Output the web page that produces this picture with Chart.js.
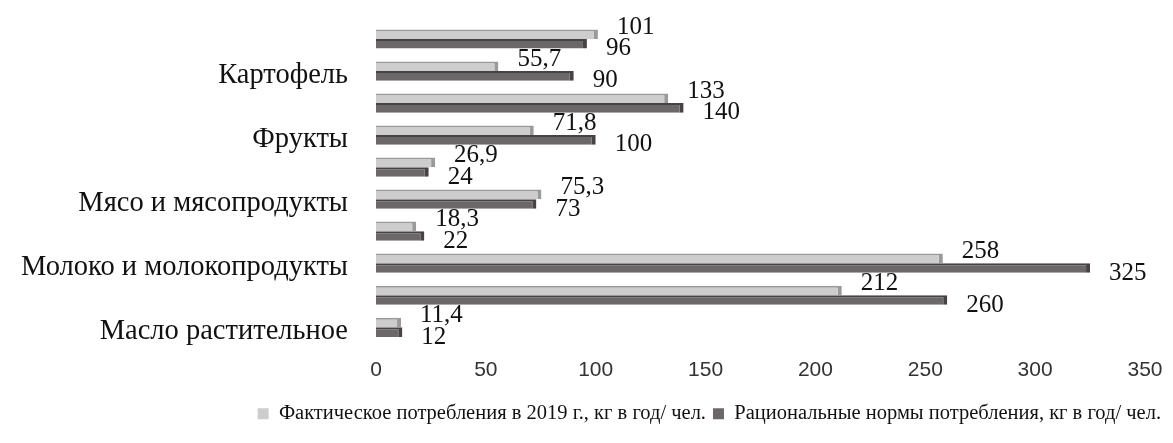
<!DOCTYPE html>
<html>
<head>
<meta charset="utf-8">
<script src="https://cdn.jsdelivr.net/npm/chart.js@4"></script>
<style>
  html, body { margin: 0; padding: 0; background: #fff; }
  #wrap { width: 1173px; height: 443px; }
</style>
</head>
<body>
<div id="wrap"><canvas id="chart"></canvas></div>
<script>
// Categories top to bottom; only every other label is printed in the original
const categories = [
    'Хлебные продукты', 'Картофель', 'Овощи и бахчевые', 'Фрукты', 'Сахар',
    'Мясо и мясопродукты', 'Рыба и рыбопродукты', 'Молоко и молокопродукты', 'Яйца, шт.', 'Масло растительное'
];
const factual2019 = [101, 55.7, 133, 71.8, 26.9, 75.3, 18.3, 258, 212, 11.4];
const rationalNorms = [96, 90, 140, 100, 24, 73, 22, 325, 260, 12];
const xTicks = [0, 50, 100, 150, 200, 250, 300, 350];

const seriesNames = [
    'Фактическое потребления в 2019 г., кг в год/ чел.',
    'Рациональные нормы потребления, кг в год/ чел.'
];

const serif = '"Liberation Serif", "Times New Roman", serif';

// value labels next to the bar ends, comma as decimal separator
const valueLabels = {
    id: 'valueLabels',
    afterDatasetsDraw(chart) {
        const ctx = chart.ctx;
        ctx.save();
        ctx.font = '25px ' + serif;
        ctx.fillStyle = '#111';
        ctx.textAlign = 'left';
        ctx.textBaseline = 'middle';
        chart.data.datasets.forEach((ds, di) => {
            const meta = chart.getDatasetMeta(di);
            meta.data.forEach((bar, i) => {
                const txt = String(ds.data[i]).replace('.', ',');
                const dy = di === 0 ? -7 : 5;
                ctx.fillText(txt, bar.x + 19, bar.y + dy);
            });
        });
        ctx.restore();
    }
};

new Chart(document.getElementById('chart'), {
    type: 'bar',
    data: {
        labels: categories,
        datasets: [
            {
                label: seriesNames[0],
                data: factual2019,
                backgroundColor: '#cdcdcd',
                borderColor: '#9a9a9a',
                borderWidth: { top: 2, right: 4, bottom: 0, left: 0 },
                borderSkipped: false
            },
            {
                label: seriesNames[1],
                data: rationalNorms,
                backgroundColor: '#6c6768',
                borderColor: '#474344',
                borderWidth: { top: 2, right: 4, bottom: 0, left: 0 },
                borderSkipped: false
            }
        ]
    },
    options: {
        indexAxis: 'y',
        responsive: true,
        maintainAspectRatio: false,
        animation: false,
        layout: { padding: { top: 23, right: 5, bottom: 9, left: 0 } },
        datasets: { bar: { categoryPercentage: 0.6, barPercentage: 1 } },
        scales: {
            x: {
                min: 0,
                max: 350,
                afterBuildTicks: s => { s.ticks = xTicks.map(v => ({ value: v })); },
                afterFit: s => { s.paddingRight = 28; },
                grid: { display: false, drawTicks: false },
                border: { display: false },
                ticks: {
                    padding: 14,
                    color: '#333',
                    font: { family: '"Liberation Sans", Arial, sans-serif', size: 21 }
                }
            },
            y: {
                grid: { display: false, drawTicks: false },
                border: { display: false },
                afterFit: s => { s.width = 376; s.paddingTop = 0; s.paddingBottom = 0; },
                ticks: {
                    autoSkip: false,
                    padding: 28,
                    labelOffset: 4,
                    color: '#111',
                    font: { family: serif, size: 28.5 },
                    callback: function (value, index) {
                        return index % 2 === 1 ? categories[index] : '';
                    }
                }
            }
        },
        plugins: {
            legend: {
                position: 'bottom',
                align: 'end',
                labels: {
                    boxWidth: 11,
                    boxHeight: 11,
                    padding: 7,
                    color: '#111',
                    font: { family: serif, size: 20.5 },
                    generateLabels: chart => Chart.defaults.plugins.legend.labels.generateLabels(chart)
                        .map(item => Object.assign(item, { lineWidth: 0, strokeStyle: 'rgba(0,0,0,0)' }))
                }
            },
            tooltip: { enabled: false }
        }
    },
    plugins: [valueLabels]
});
</script>
</body>
</html>
